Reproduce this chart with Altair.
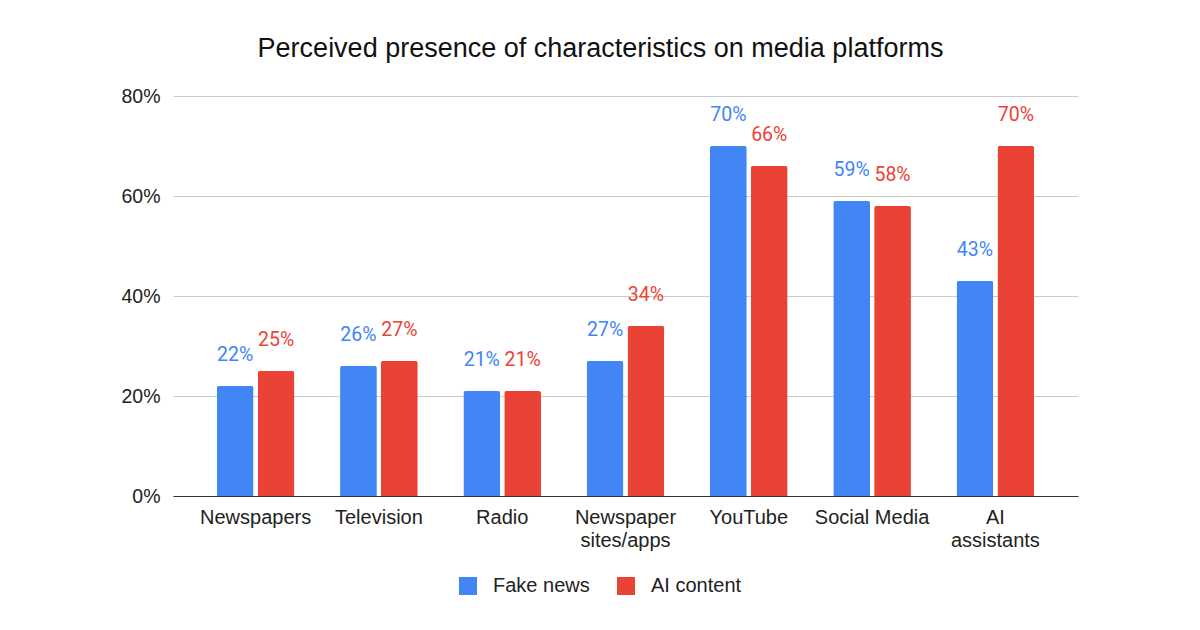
import altair as alt
import pandas as pd

categories = ["Newspapers", "Television", "Radio", "Newspaper|sites/apps",
              "YouTube", "Social Media", "AI|assistants"]
series = ["Fake news", "AI content"]
fake_news = [22, 26, 21, 27, 70, 59, 43]
ai_content = [25, 27, 21, 34, 66, 58, 70]
colors = ["#4285F4", "#EA4335"]
y_ticks = [0, 20, 40, 60, 80]

rows = []
for c, f, a in zip(categories, fake_news, ai_content):
    rows.append({"platform": c, "series": series[0], "value": f})
    rows.append({"platform": c, "series": series[1], "value": a})
df = pd.DataFrame(rows)

FONT = "Liberation Sans"

x_enc = alt.X("platform:N", sort=categories,
              scale=alt.Scale(paddingInner=0.37, paddingOuter=0.355),
              axis=alt.Axis(title=None, labelAngle=0, labelFontSize=20, labelFont=FONT,
                            labelColor="#222", labelPadding=11, labelLineHeight=23,
                            labelExpr="split(datum.label, '|')", ticks=False,
                            domainColor="#333", domainWidth=1.2))
xoff_enc = alt.XOffset("series:N", sort=series,
                       scale=alt.Scale(paddingInner=0.1, paddingOuter=0))
y_enc = alt.Y("value:Q", scale=alt.Scale(domain=[0, 80], nice=False),
              axis=alt.Axis(title=None, values=y_ticks, labelExpr="datum.value + '%'",
                            labelFontSize=19.5, labelFont=FONT, labelColor="#222",
                            labelPadding=13, ticks=False, domain=False,
                            gridColor="#cccccc", gridWidth=1))
color_scale = alt.Scale(domain=series, range=colors)

base = alt.Chart(df).encode(x=x_enc, xOffset=xoff_enc, y=y_enc)

bars = base.mark_bar(cornerRadiusTopLeft=2, cornerRadiusTopRight=2).encode(
    color=alt.Color("series:N", scale=color_scale, sort=series,
                    legend=alt.Legend(title=None, orient="none", direction="horizontal",
                                      legendX=285, legendY=480, symbolType="square",
                                      symbolSize=324, symbolStrokeWidth=0,
                                      labelFontSize=20, labelFont=FONT, labelColor="#222",
                                      labelOffset=15, columnPadding=26))
)

labels = base.transform_calculate(lbl="datum.value + '%'").mark_text(
    dy=-31, fontSize=19.5, font="Roboto", baseline="middle"
).encode(
    text="lbl:N",
    color=alt.Color("series:N", scale=color_scale, sort=series, legend=None),
)

chart = alt.layer(bars, labels).properties(
    width=905, height=400,
    title=alt.TitleParams("Perceived presence of characteristics on media platforms",
                          fontSize=27, font=FONT, fontWeight="normal", color="#111",
                          anchor="middle", dx=-25, offset=23),
    autosize=alt.AutoSizeParams(type="none"),
    padding={"left": 165, "top": 88, "right": 114, "bottom": 126},
).configure_view(stroke=None)

chart.save("out.html", embed_options={"renderer": "svg", "actions": False})
